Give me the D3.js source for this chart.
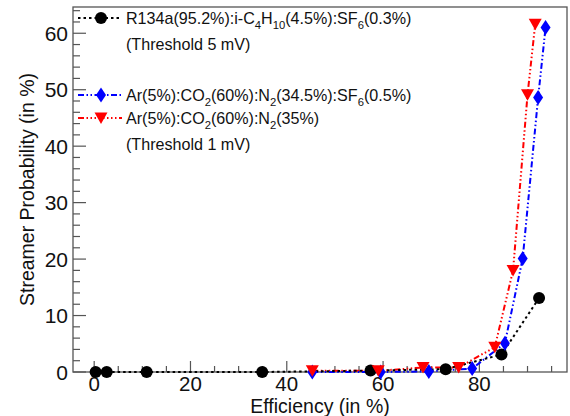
<!DOCTYPE html>
<html><head><meta charset="utf-8">
<script src="https://cdn.jsdelivr.net/npm/d3@7"></script>
<style>
body{margin:0;background:#fff;}
svg{display:block;font-family:"Liberation Sans",Arial,sans-serif;}
</style></head>
<body><svg id="c" width="570" height="416"></svg>
<script>
// Data
const r134aX = [0.3, 2.6, 10.9, 34.9, 57.4, 73.0, 84.6, 92.4];
const r134aY = [0, 0, 0, 0, 0.25, 0.5, 3.1, 13.1];
const arSF6X = [45.3, 59.5, 69.5, 78.5, 85.3, 89.0, 92.2, 93.75];
const arSF6Y = [0, 0, 0.1, 0.6, 5.1, 20.1, 48.6, 61.0];
const arN2X = [45.3, 59.0, 68.3, 75.7, 83.2, 87.0, 90.0, 91.6];
const arN2Y = [0.2, 0.2, 0.8, 0.8, 4.4, 18.0, 49.1, 61.6];
const xTicks = [0, 20, 40, 60, 80];
const yTicks = [0, 10, 20, 30, 40, 50, 60];

const svg = d3.select("#c");
const L = 73, T = 7, R = 567, B = 372;
const x = d3.scaleLinear().domain([-4.4, 98.2]).range([L, R]);
const y = d3.scaleLinear().domain([0, 64.65]).range([B, T]);

const axisCol = "#555";
svg.append("rect").attr("x", L).attr("y", T).attr("width", R - L).attr("height", B - T)
  .attr("fill", "none").attr("stroke", axisCol).attr("stroke-width", 1.3);

const yMinor = d3.range(0, 64.6, 2);
const gy = svg.append("g").attr("transform", `translate(${L},0)`);
gy.selectAll("line.mn").data(yMinor).join("line")
  .attr("x1", 0).attr("x2", d => d % 10 === 0 ? 13 : 7)
  .attr("y1", d => y(d)).attr("y2", d => y(d))
  .attr("stroke", axisCol).attr("stroke-width", 1.2);
gy.selectAll("text").data(yTicks).join("text")
  .attr("x", -5).attr("y", d => y(d)).attr("dy", "0.36em")
  .attr("text-anchor", "end").attr("font-size", 21).attr("fill", "#111")
  .text(d => d);

const xMinor = d3.range(0, 98.2, 5);
const gx = svg.append("g");
gx.selectAll("line").data(xMinor).join("line")
  .attr("x1", d => x(d)).attr("x2", d => x(d))
  .attr("y1", B).attr("y2", d => d % 20 === 0 ? B - 11 : B - 6)
  .attr("stroke", axisCol).attr("stroke-width", 1.2);
gx.selectAll("text").data(xTicks).join("text")
  .attr("x", d => x(d)).attr("y", 390.5)
  .attr("text-anchor", "middle").attr("font-size", 20.5).attr("fill", "#111")
  .text(d => d);

svg.append("text").attr("x", (L + R) / 2).attr("y", 412.5).attr("text-anchor", "middle")
  .attr("font-size", 19.5).attr("fill", "#111").text("Efficiency (in %)");
svg.append("text").attr("transform", `translate(34,${(T + B) / 2}) rotate(-90)`)
  .attr("text-anchor", "middle").attr("font-size", 19.5).attr("fill", "#111")
  .text("Streamer Probability (in %)");

const series = [
  {xs: r134aX, ys: r134aY, color: "#000", dash: "2.5,3", marker: "circle"},
  {xs: arSF6X, ys: arSF6Y, color: "#0000ff", dash: "6,2.5,1.5,2.5,1.5,2.5", marker: "diamond"},
  {xs: arN2X, ys: arN2Y, color: "#ff0000", dash: "6,2.5,1.5,2.5,1.5,2.5,1.5,2.5", marker: "tri"}
];
const line = d3.line().x(d => x(d[0])).y(d => y(d[1]));

function drawMarker(g, type, cx, cy, color) {
  if (type === "circle") {
    g.append("circle").attr("cx", cx).attr("cy", cy).attr("r", 6).attr("fill", color);
  } else if (type === "diamond") {
    g.append("path").attr("d", `M${cx},${cy - 7.5}L${cx + 5},${cy}L${cx},${cy + 7.5}L${cx - 5},${cy}Z`).attr("fill", color);
  } else {
    g.append("path").attr("d", `M${cx - 6.5},${cy - 5.5}L${cx + 6.5},${cy - 5.5}L${cx},${cy + 6}Z`).attr("fill", color);
  }
}

const plot = svg.append("g");
series.slice().reverse().forEach(s => {
  const pts = s.xs.map((v, i) => [v, s.ys[i]]);
  plot.append("path").attr("d", line(pts)).attr("fill", "none")
    .attr("stroke", s.color).attr("stroke-width", 2).attr("stroke-dasharray", s.dash);
});
series.forEach(s => {
  s.xs.forEach((v, i) => drawMarker(plot, s.marker, x(v), y(s.ys[i]), s.color));
});

const leg = svg.append("g");
const legRows = [
  {y: 18, s: series[0]},
  {y: 95, s: series[1]},
  {y: 118, s: series[2]}
];
legRows.forEach(r => {
  leg.append("line").attr("x1", 78).attr("x2", 122).attr("y1", r.y).attr("y2", r.y)
    .attr("stroke", r.s.color).attr("stroke-width", 2).attr("stroke-dasharray", r.s.dash);
  drawMarker(leg, r.s.marker, 101, r.y, r.s.color);
});
const fs = 16.1;
function legTextSub(yb, parts) {
  const t = leg.append("text").attr("x", 126).attr("y", yb).attr("font-size", fs).attr("fill", "#111");
  let down = false;
  parts.forEach(p => {
    if (typeof p === "string") {
      t.append("tspan").attr("dy", down ? -5 : 0).text(p); down = false;
    } else {
      t.append("tspan").attr("font-size", fs * 0.7).attr("dy", down ? 0 : 5).text(p.sub); down = true;
    }
  });
}
legTextSub(24, ["R134a(95.2%):i-C", {sub: "4"}, "H", {sub: "10"}, "(4.5%):SF", {sub: "6"}, "(0.3%)"]);
legTextSub(50, ["(Threshold 5 mV)"]);
legTextSub(101, ["Ar(5%):CO", {sub: "2"}, "(60%):N", {sub: "2"}, "(34.5%):SF", {sub: "6"}, "(0.5%)"]);
legTextSub(124, ["Ar(5%):CO", {sub: "2"}, "(60%):N", {sub: "2"}, "(35%)"]);
legTextSub(150, ["(Threshold 1 mV)"]);
</script></body></html>
